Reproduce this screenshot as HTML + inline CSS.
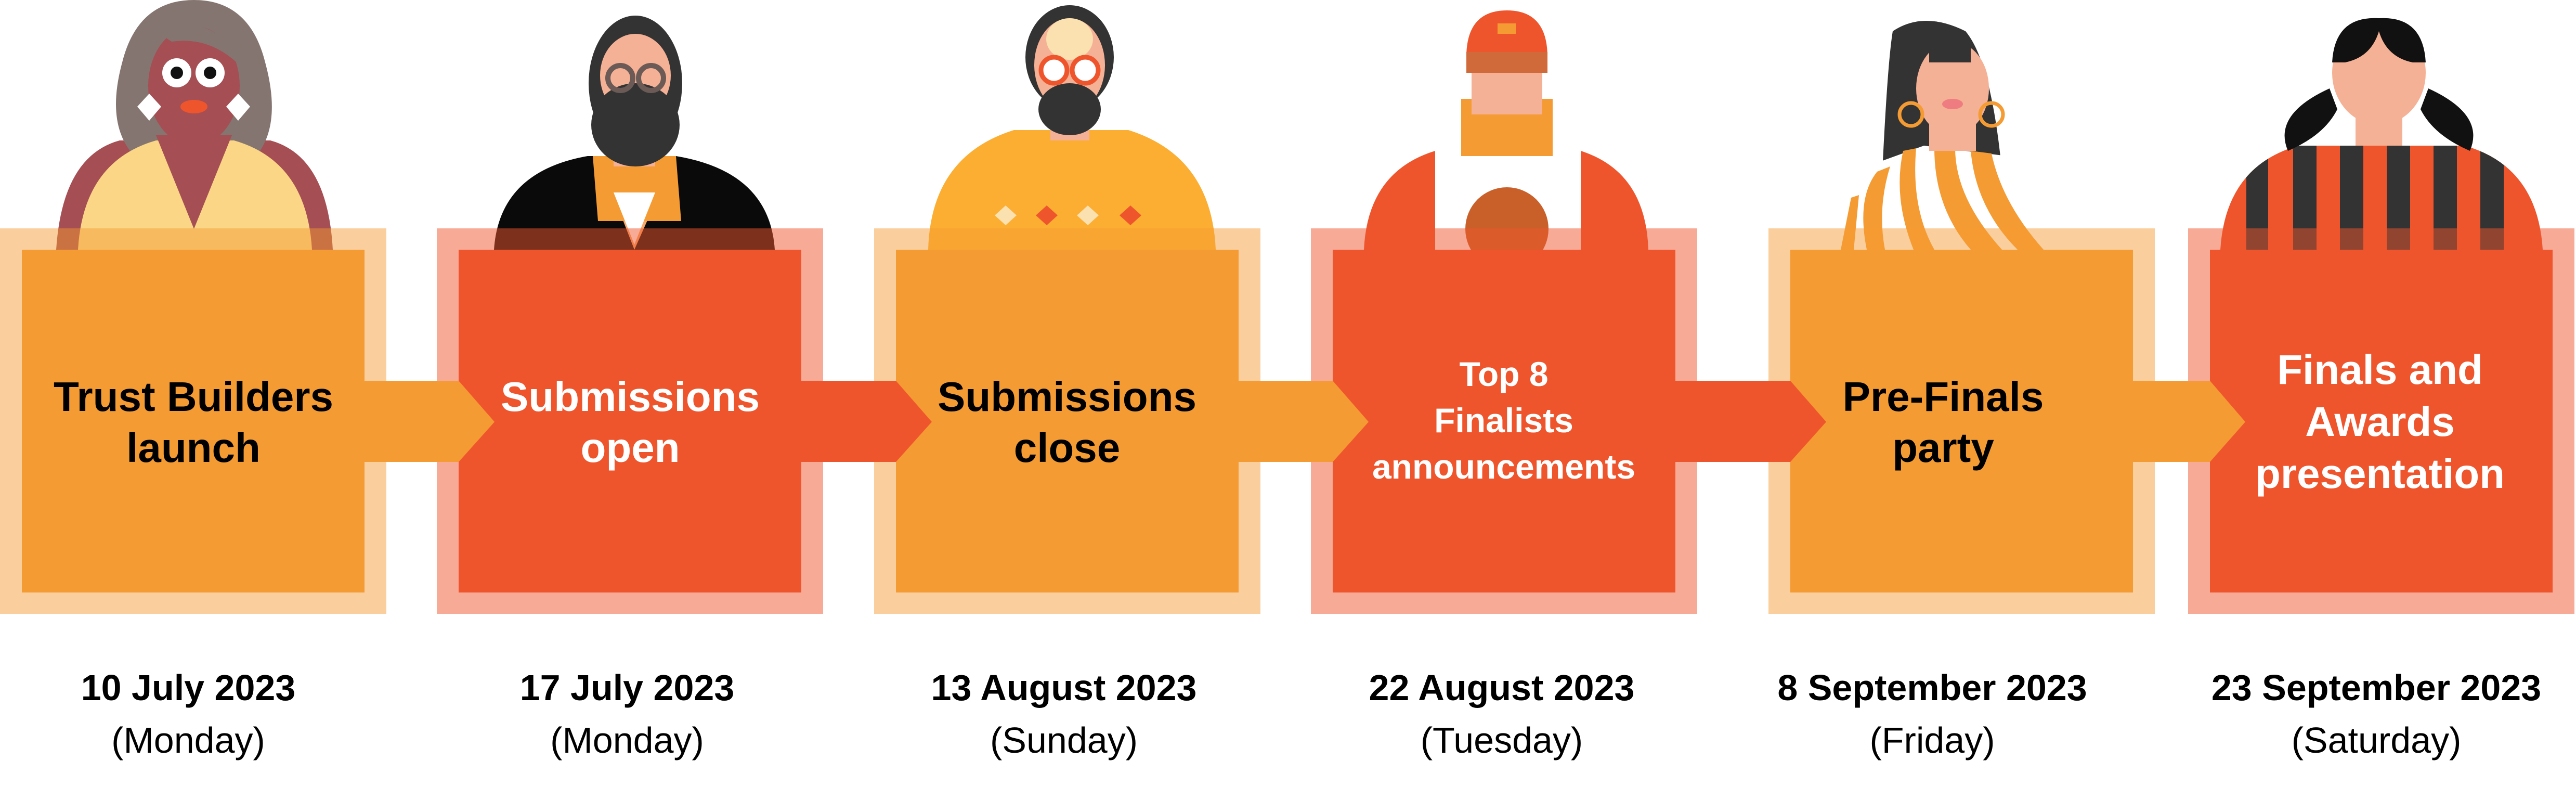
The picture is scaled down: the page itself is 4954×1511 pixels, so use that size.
<!DOCTYPE html>
<html><head><meta charset="utf-8"><style>
html,body{margin:0;padding:0;background:#fff}
svg{display:block}
.t{font-family:"Liberation Sans",Arial,sans-serif;font-weight:bold;text-anchor:middle}
.d{font-family:"Liberation Sans",Arial,sans-serif;text-anchor:middle;font-size:70px}
</style></head><body>
<svg width="4954" height="1511" viewBox="0 0 4954 1511" xmlns="http://www.w3.org/2000/svg">
<!-- Figure 1 -->
<g>
<path d="M108 480 Q120 300 230 270 L520 270 Q630 300 640 480 Z" fill="#A54E54"/>
<path d="M373 0 Q480 0 510 120 Q540 230 500 290 L250 290 Q205 230 235 120 Q265 0 373 0 Z" fill="#857570"/>
<path d="M150 480 Q160 310 300 270 L450 270 Q590 310 600 480 Z" fill="#FBD686"/>
<path d="M300 260 L373 440 L446 260 Z" fill="#A54E54"/>
<ellipse cx="373" cy="165" rx="88" ry="115" fill="#A54E54"/>
<path d="M300 60 Q373 20 450 90 L455 120 Q400 70 330 80 Z" fill="#857570"/>
<circle cx="340" cy="140" r="28" fill="#fff"/><circle cx="404" cy="140" r="28" fill="#fff"/>
<circle cx="340" cy="140" r="12" fill="#111"/><circle cx="404" cy="140" r="12" fill="#111"/>
<path d="M287 180 L310 205 L287 232 L264 205 Z" fill="#fff"/>
<path d="M458 180 L481 205 L458 232 L435 205 Z" fill="#fff"/>
<ellipse cx="373" cy="205" rx="26" ry="13" fill="#EF552C"/>
</g>
<!-- Figure 2 -->
<g>
<path d="M950 480 Q960 330 1130 300 L1300 300 Q1480 330 1490 480 Z" fill="#0A0A0A"/>
<path d="M1150 300 L1220 480 L1300 300 Z" fill="#F7A96B"/>
<path d="M1140 300 L1150 425 L1310 425 L1300 300 Z" fill="#F59B33"/>
<path d="M1180 370 L1220 470 L1260 370 Z" fill="#fff"/>
<rect x="1180" y="260" width="80" height="60" fill="#F5B195"/>
<ellipse cx="1222" cy="160" rx="90" ry="130" fill="#333"/>
<ellipse cx="1222" cy="145" rx="68" ry="80" fill="#F5B195"/>
<ellipse cx="1222" cy="240" rx="85" ry="80" fill="#333"/>
<circle cx="1193" cy="150" r="24" fill="none" stroke="#6b5a55" stroke-width="10"/>
<circle cx="1252" cy="150" r="24" fill="none" stroke="#6b5a55" stroke-width="10"/>
</g>
<!-- Figure 3 -->
<g>
<path d="M1785 480 Q1790 300 1950 250 L2170 250 Q2330 300 2338 480 Z" fill="#FBAE32"/>
<path d="M1934 395 L1955 414 L1934 433 L1913 414 Z" fill="#FBE0B0"/>
<path d="M2013 395 L2034 414 L2013 433 L1992 414 Z" fill="#EF552C"/>
<path d="M2092 395 L2113 414 L2092 433 L2071 414 Z" fill="#FBE0B0"/>
<path d="M2174 395 L2195 414 L2174 433 L2153 414 Z" fill="#EF552C"/>
<rect x="2020" y="200" width="75" height="70" fill="#F5B195"/>
<ellipse cx="2057" cy="110" rx="85" ry="100" fill="#333"/>
<ellipse cx="2057" cy="125" rx="68" ry="90" fill="#F5B195"/>
<ellipse cx="2057" cy="75" rx="45" ry="40" fill="#FBE0B0"/>
<ellipse cx="2057" cy="210" rx="60" ry="50" fill="#333"/>
<circle cx="2027" cy="135" r="25" fill="#fff" stroke="#EF552C" stroke-width="9"/>
<circle cx="2087" cy="135" r="25" fill="#fff" stroke="#EF552C" stroke-width="9"/>
</g>
<!-- Figure 4 -->
<g>
<path d="M2623 480 Q2630 330 2760 290 L3040 290 Q3165 330 3170 480 Z" fill="#EF552C"/>
<rect x="2760" y="290" width="280" height="190" fill="#fff"/>
<circle cx="2898" cy="440" r="80" fill="#C9602A"/>
<rect x="2810" y="190" width="176" height="110" fill="#F59B33"/>
<rect x="2830" y="90" width="136" height="130" fill="#F5B195"/>
<path d="M2820 110 Q2820 20 2898 20 Q2976 20 2976 110 Z" fill="#EF552C"/>
<rect x="2820" y="100" width="156" height="40" fill="#D06A3A"/>
<rect x="2880" y="45" width="35" height="20" fill="#F59B33"/>
</g>
<!-- Figure 5 -->
<g>
<path d="M3640 60 Q3700 20 3780 60 Q3830 120 3850 330 L3620 330 Q3630 120 3640 60 Z" fill="#333"/>
<path d="M3510 480 Q3520 360 3590 320 L3700 280 L3860 300 Q3950 330 3975 480 Z" fill="#fff"/>
<g fill="#F59B33">
<path d="M3540 480 L3560 380 L3575 375 L3565 480 Z"/>
<path d="M3590 480 Q3570 380 3610 330 L3635 320 Q3610 400 3625 480 Z"/>
<path d="M3680 480 Q3640 380 3660 290 L3685 285 Q3675 400 3720 480 Z"/>
<path d="M3790 480 Q3720 400 3720 285 L3760 285 Q3760 380 3850 480 Z"/>
<path d="M3880 480 Q3800 400 3790 290 L3830 295 Q3850 390 3930 480 Z"/>
</g>
<rect x="3710" y="220" width="90" height="70" fill="#F5B195"/>
<ellipse cx="3755" cy="170" rx="70" ry="90" fill="#F5B195"/>
<rect x="3710" y="80" width="80" height="40" fill="#333"/>
<ellipse cx="3755" cy="200" rx="20" ry="10" fill="#EE7C80"/>
<circle cx="3675" cy="220" r="22" fill="none" stroke="#F59B33" stroke-width="7"/>
<circle cx="3830" cy="220" r="22" fill="none" stroke="#F59B33" stroke-width="7"/>
</g>
<!-- Figure 6 -->
<g>
<clipPath id="b6"><path d="M4270 480 Q4280 320 4420 280 L4740 280 Q4880 320 4890 480 Z"/></clipPath>
<path d="M4270 480 Q4280 320 4420 280 L4740 280 Q4880 320 4890 480 Z" fill="#EF552C"/>
<g fill="#333" clip-path="url(#b6)">
<rect x="4320" y="250" width="42" height="230"/><rect x="4410" y="250" width="45" height="230"/>
<rect x="4500" y="250" width="45" height="230"/><rect x="4590" y="250" width="45" height="230"/>
<rect x="4680" y="250" width="45" height="230"/><rect x="4770" y="250" width="45" height="230"/>
</g>
<path d="M4480 170 Q4370 220 4400 290 Q4470 260 4495 210 Z" fill="#111"/>
<path d="M4670 170 Q4780 220 4750 290 Q4680 260 4655 210 Z" fill="#111"/>
<rect x="4530" y="200" width="90" height="80" fill="#F5B195"/>
<ellipse cx="4575" cy="140" rx="90" ry="100" fill="#F5B195"/>
<path d="M4485 120 Q4490 30 4575 35 Q4660 30 4665 120 L4640 120 Q4590 110 4575 60 Q4560 110 4510 120 Z" fill="#111"/>
</g>

<!-- Boxes -->
<g>
<rect x="0" y="439" width="743" height="741" fill="#F59B33" opacity="0.48"/>
<rect x="42" y="480" width="659" height="659" fill="#F59B33"/>
<rect x="840" y="439" width="743" height="741" fill="#EF552C" opacity="0.5"/>
<rect x="882" y="480" width="659" height="659" fill="#EF552C"/>
<rect x="1681" y="439" width="743" height="741" fill="#F59B33" opacity="0.48"/>
<rect x="1723" y="480" width="659" height="659" fill="#F59B33"/>
<rect x="2521" y="439" width="743" height="741" fill="#EF552C" opacity="0.5"/>
<rect x="2563" y="480" width="659" height="659" fill="#EF552C"/>
<rect x="3401" y="439" width="743" height="741" fill="#F59B33" opacity="0.48"/>
<rect x="3443" y="480" width="659" height="659" fill="#F59B33"/>
<rect x="4208" y="439" width="743" height="741" fill="#EF552C" opacity="0.5"/>
<rect x="4250" y="480" width="659" height="659" fill="#EF552C"/>
</g>
<!-- Arrows -->
<path d="M701 732 L882 732 L951 811 L882 888 L701 888 Z" fill="#F59B33"/>
<path d="M1541 732 L1723 732 L1792 811 L1723 888 L1541 888 Z" fill="#EF552C"/>
<path d="M2382 732 L2563 732 L2632 811 L2563 888 L2382 888 Z" fill="#F59B33"/>
<path d="M3222 732 L3443 732 L3512 811 L3443 888 L3222 888 Z" fill="#EF552C"/>
<path d="M4102 732 L4250 732 L4318 811 L4250 888 L4102 888 Z" fill="#F59B33"/>

<!-- Box text -->
<text class="t" font-size="80" fill="#000" x="372" y="790">Trust Builders</text>
<text class="t" font-size="80" fill="#000" x="372" y="888">launch</text>
<text class="t" font-size="80" fill="#fff" x="1212" y="790">Submissions</text>
<text class="t" font-size="80" fill="#fff" x="1212" y="888">open</text>
<text class="t" font-size="80" fill="#000" x="2052" y="790">Submissions</text>
<text class="t" font-size="80" fill="#000" x="2052" y="888">close</text>
<text class="t" font-size="66" fill="#fff" x="2892" y="742">Top 8</text>
<text class="t" font-size="66" fill="#fff" x="2892" y="831">Finalists</text>
<text class="t" font-size="66" fill="#fff" x="2892" y="920">announcements</text>
<text class="t" font-size="80" fill="#000" x="3737" y="790">Pre-Finals</text>
<text class="t" font-size="80" fill="#000" x="3737" y="888">party</text>
<text class="t" font-size="80" fill="#fff" x="4577" y="738">Finals and</text>
<text class="t" font-size="80" fill="#fff" x="4577" y="838">Awards</text>
<text class="t" font-size="80" fill="#fff" x="4577" y="938">presentation</text>

<!-- Dates -->
<g class="t" font-size="70" fill="#000">
<text class="t" x="362" y="1346">10 July 2023</text>
<text class="t" x="1206" y="1346">17 July 2023</text>
<text class="t" x="2046" y="1346">13 August 2023</text>
<text class="t" x="2888" y="1346">22 August 2023</text>
<text class="t" x="3716" y="1346">8 September 2023</text>
<text class="t" x="4570" y="1346">23 September 2023</text>
</g>
<g fill="#000">
<text class="d" x="362" y="1447">(Monday)</text>
<text class="d" x="1206" y="1447">(Monday)</text>
<text class="d" x="2046" y="1447">(Sunday)</text>
<text class="d" x="2888" y="1447">(Tuesday)</text>
<text class="d" x="3716" y="1447">(Friday)</text>
<text class="d" x="4570" y="1447">(Saturday)</text>
</g>
</svg>
</body></html>
